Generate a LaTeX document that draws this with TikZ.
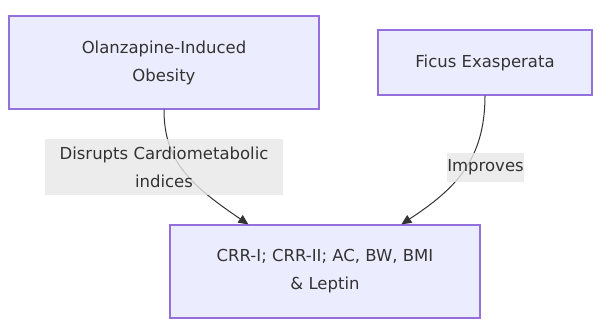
\documentclass[tikz,border=0pt]{standalone}
\usepackage{fontspec}
\setmainfont{DejaVu Sans}
\usetikzlibrary{arrows.meta}
\definecolor{boxfill}{HTML}{ECECFF}
\definecolor{boxline}{HTML}{9370DB}
\definecolor{ink}{HTML}{333333}
\definecolor{lblfill}{HTML}{E8E8E8}
\tikzset{
  box/.style={draw=boxline, fill=boxfill, line width=1.2pt, inner sep=0pt, align=center,
    text=ink, font=\fontsize{16.5}{28}\selectfont},
  lbl/.style={fill=lblfill, fill opacity=0.8, text opacity=1, inner sep=0pt, align=center,
    text=ink, font=\fontsize{16.5}{28}\selectfont},
  edge/.style={draw=ink, line width=1pt, -{Triangle[length=10pt,width=9pt]}}
}
\begin{document}
\begin{tikzpicture}[x=1pt,y=-1pt]
\useasboundingbox (0,0) rectangle (602,335);
\fill[white] (0,0) rectangle (602,335);
\node[box, minimum width=310pt, minimum height=93pt] (n1) at (164,62.5) {Olanzapine-Induced\\Obesity};
\node[box, minimum width=214pt, minimum height=65pt] (f) at (485,62.5) {Ficus Exasperata};
\node[box, minimum width=310pt, minimum height=93pt] (n3) at (325,271.5) {CRR-I; CRR-II; AC, BW, BMI\\\& Leptin};
\coordinate (t1) at ([xshift=79pt]n3.north west);
\coordinate (t2) at ([xshift=232pt]n3.north west);
\draw[edge] (n1.south) .. controls +(0,51) and +(-59,-40) .. (t1);
\draw[edge] (f.south) .. controls +(0,65) and +(53,-35) .. (t2);
\node[lbl, minimum width=238pt, minimum height=56pt] (l1) at (164,167) {Disrupts Cardiometabolic\\indices};
\node[lbl, minimum width=77pt, minimum height=29pt] (l2) at (485.5,167.5) {Improves};
\end{tikzpicture}
\end{document}
